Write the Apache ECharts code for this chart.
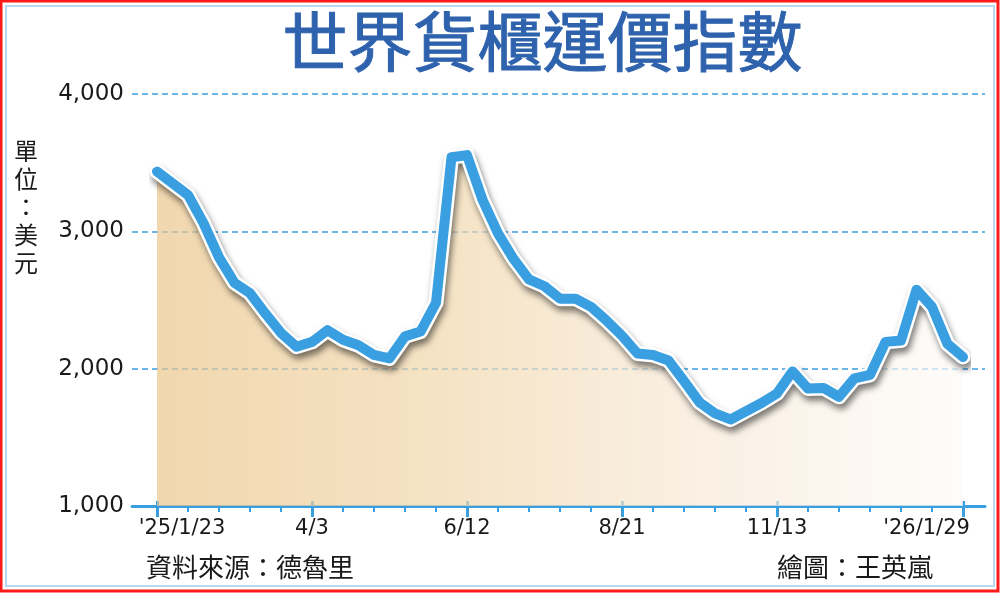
<!DOCTYPE html>
<html>
<head>
<meta charset="utf-8">
<script src="https://cdn.jsdelivr.net/npm/echarts@6/dist/echarts.min.js"></script>
<style>
html,body{margin:0;padding:0;background:#fff;}
#c{width:1000px;height:594px;}
</style>
</head>
<body>
<div id="c"></div>
<script>
// ---- data ----
const values = [
  3435, 3350, 3265, 3060, 2810, 2625, 2550, 2400, 2260, 2160,
  2195, 2280, 2210, 2170, 2100, 2075, 2235, 2270, 2480, 3540,
  3555, 3230, 2985, 2800, 2650, 2600, 2510, 2510, 2450, 2350,
  2240, 2110, 2100, 2060, 1910, 1755, 1675, 1630, 1690, 1750,
  1820, 1980, 1855, 1860, 1795, 1930, 1955, 2195, 2205, 2575,
  2450, 2180, 2085
];
const categories = values.map((v, i) => String(i));
const labelIndex = [0, 10, 20, 30, 40, 52];
const labelText = ["'25/1/23", '4/3', '6/12', '8/21', '11/13', "'26/1/29"];
const yTicks = [1000, 2000, 3000, 4000];

const BLUE = '#3a9fe0';
const chart = echarts.init(document.getElementById('c'), null, {renderer: 'canvas'});

const numFont = "'DejaVu Sans', 'Liberation Sans', sans-serif";
const cjkFont = "'Noto Sans CJK TC', 'Noto Sans CJK SC', sans-serif";

const option = {
  animation: false,
  backgroundColor: '#ffffff',
  grid: [
    {left: 132, right: 15, top: 94, bottom: 88},
    {left: 157, right: 37, top: 94, bottom: 88}
  ],
  xAxis: [
    {
      gridIndex: 0, type: 'value', min: 0, max: 1, position: 'bottom',
      axisLine: {show: true, onZero: false, lineStyle: {color: BLUE, width: 3}},
      axisTick: {show: false}, axisLabel: {show: false}, splitLine: {show: false}
    },
    {
      gridIndex: 1, type: 'category', data: categories, boundaryGap: false, position: 'bottom',
      axisLine: {show: false, onZero: false},
      axisTick: {show: true, length: 6, interval: (i) => i % 2 === 0,
                 lineStyle: {color: BLUE, width: 2}},
      axisLabel: {
        show: true, margin: 12, color: '#1a1a1a', fontFamily: numFont, fontSize: 21,
        interval: (i) => labelIndex.indexOf(i) >= 0,
        formatter: (v, i) => {
          const k = labelIndex.indexOf(i);
          if (k < 0) return '';
          if (k === 0) return '{first|' + labelText[k] + '}';
          if (k === labelIndex.length - 1) return '{last|' + labelText[k] + '}';
          return labelText[k];
        },
        rich: {
          first: {padding: [0, 0, 0, 50], fontFamily: numFont, fontSize: 21, color: '#1a1a1a'},
          last: {padding: [0, 73, 0, 0], fontFamily: numFont, fontSize: 21, color: '#1a1a1a'}
        }
      },
      splitLine: {show: false}
    },
    {
      gridIndex: 1, type: 'category', data: categories, boundaryGap: false, position: 'bottom',
      offset: -5,
      axisLine: {show: false, onZero: false},
      axisTick: {show: true, length: 16, interval: (i) => labelIndex.indexOf(i) >= 0,
                 lineStyle: {color: BLUE, width: 3}},
      axisLabel: {show: false}, splitLine: {show: false}
    }
  ],
  yAxis: [
    {
      gridIndex: 0, type: 'value', min: yTicks[0], max: yTicks[yTicks.length - 1], interval: 1000,
      axisLine: {show: false}, axisTick: {show: false},
      axisLabel: {
        show: true, margin: 8, color: '#1a1a1a', fontFamily: numFont, fontSize: 23,
        formatter: (v) => v.toLocaleString('en-US')
      },
      splitLine: {show: true, lineStyle: {color: BLUE, width: 1.5, type: [6, 4]}}
    },
    {
      gridIndex: 1, type: 'value', min: yTicks[0], max: yTicks[yTicks.length - 1], interval: 1000,
      show: false, splitLine: {show: false}
    }
  ],
  series: [
    {
      type: 'line', xAxisIndex: 1, yAxisIndex: 1, data: values, showSymbol: false, clip: false,
      lineStyle: {width: 0},
      areaStyle: {
        origin: 'start',
        color: new echarts.graphic.LinearGradient(0, 0, 1, 0, [
          {offset: 0, color: '#ebc68c'},
          {offset: 0.35, color: '#f1d7ac'},
          {offset: 0.65, color: '#f7e8d4'},
          {offset: 1, color: '#fdfbf8'}
        ])
      },
      z: 1
    },
    {
      type: 'line', xAxisIndex: 1, yAxisIndex: 1, data: values, showSymbol: false, clip: false,
      lineStyle: {width: 15, color: '#ffffff', cap: 'round', join: 'round',
                  shadowColor: 'rgba(0,0,0,0.5)', shadowBlur: 6, shadowOffsetX: 2, shadowOffsetY: 5},
      z: 2
    },
    {
      type: 'line', xAxisIndex: 1, yAxisIndex: 1, data: values, showSymbol: false, clip: false,
      lineStyle: {width: 10, color: BLUE, cap: 'round', join: 'round'},
      z: 3
    }
  ],
  graphic: [
    {type: 'rect', shape: {x: 1, y: 1, width: 997, height: 590},
     style: {fill: 'none', stroke: '#ff1a1a', lineWidth: 3}, z: 10},
    {type: 'rect', shape: {x: 6, y: 6, width: 988, height: 580},
     style: {fill: 'none', stroke: '#b9d8f0', lineWidth: 2}, z: 10},
    {type: 'text', left: 282, top: 8, z: 10,
     style: {text: '世界貨櫃運價指數', fill: '#2f62ad', stroke: '#2f62ad', lineWidth: 1,
             font: "normal 65px " + cjkFont}},
    {type: 'text', left: 14, top: 137, z: 10,
     style: {text: '單\n位\n：\n美\n元', fill: '#1a1a1a', font: "24px " + cjkFont, lineHeight: 28}},
    {type: 'text', left: 146, top: 554, z: 10,
     style: {text: '資料來源：德魯里', fill: '#1a1a1a', font: "26px " + cjkFont}},
    {type: 'text', left: 777, top: 554, z: 10,
     style: {text: '繪圖：王英嵐', fill: '#1a1a1a', font: "26px " + cjkFont}}
  ]
};
chart.setOption(option);
</script>
</body>
</html>
